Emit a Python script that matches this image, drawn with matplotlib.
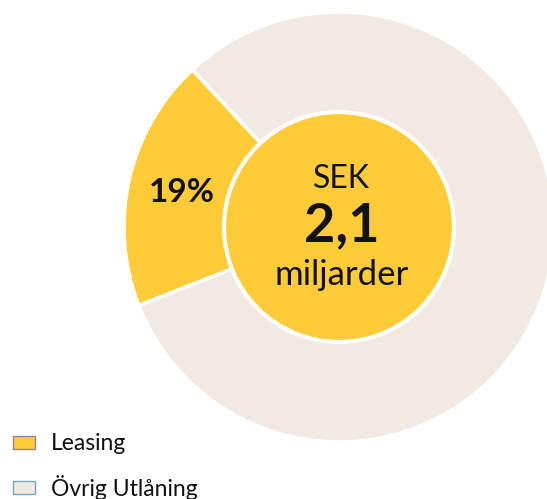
import matplotlib.pyplot as plt
from matplotlib.patches import Circle, Rectangle

# Données du graphique
categories = ['Leasing', 'Övrig Utlåning']
shares = [19, 81]
colors = ['#FFCB37', '#F2EAE2']
legend_edges = ['#9A7FA0', '#6AA8CC']
center_lines = ['SEK', '2,1', 'miljarder']

plt.rcParams['font.family'] = ['Lato', 'DejaVu Sans']

fig = plt.figure(figsize=(5.47, 4.99), dpi=100)
ax = fig.add_axes([0, 0, 1, 1])
ax.axis('off')

cx, cy = 339, 272
wedges, _ = ax.pie(shares, colors=colors, startangle=133, counterclock=True,
                   center=(cx, cy), radius=215,
                   wedgeprops=dict(edgecolor='white', linewidth=2.5))
ax.set_xlim(0, 547)
ax.set_ylim(0, 499)
ax.set_aspect('equal')

# Cercle central
ax.add_patch(Circle((cx, cy), 115, facecolor=colors[0], edgecolor='white', linewidth=3, zorder=3))

ax.text(182, 307, f'{shares[0]}%', fontsize=24, fontweight='bold', ha='center', va='center', color='#111111', zorder=4)
ax.text(341, 320, center_lines[0], fontsize=23, ha='center', va='center', color='#111111', zorder=4)
ax.text(342, 273, center_lines[1], fontsize=39, fontweight='bold', ha='center', va='center', color='#111111', zorder=4)
ax.text(342, 224, center_lines[2], fontsize=25, ha='center', va='center', color='#111111', zorder=4)

# Légende
for i, (lab, col, ec) in enumerate(zip(categories, colors, legend_edges)):
    y = 56 - i * 45
    ax.add_patch(Rectangle((13, y - 6), 22, 13, facecolor=col, edgecolor=ec, linewidth=1, zorder=4))
    ax.text(51, y, lab, fontsize=16.5, ha='left', va='center', color='#111111', zorder=4)

fig.savefig('out.png', dpi=100)
